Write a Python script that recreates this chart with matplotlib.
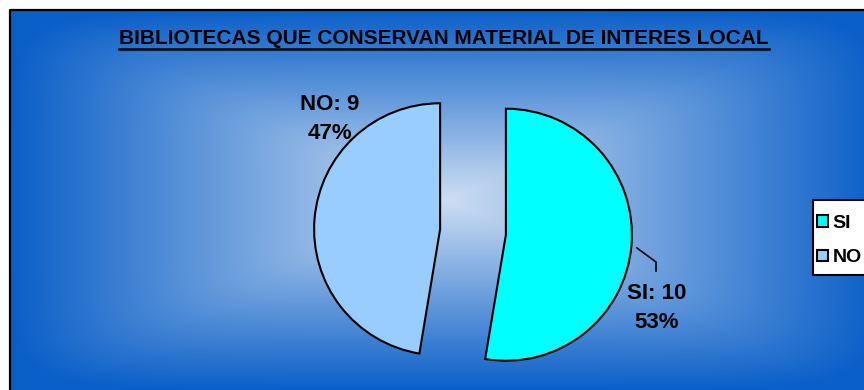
import matplotlib
matplotlib.use('Agg')
import matplotlib.pyplot as plt
import numpy as np
from matplotlib.patches import Rectangle

plt.rcParams['font.family'] = ['Liberation Sans', 'DejaVu Sans']

# datos
categorias = ['SI', 'NO']
valores = [10, 9]
porcentajes = ['53%', '47%']
colores = ['#00FFFF', '#99CCFF']
titulo = 'BIBLIOTECAS QUE CONSERVAN MATERIAL DE INTERES LOCAL'

W, H = 864, 390
fig = plt.figure(figsize=(W / 100, H / 100), dpi=100)
ax = fig.add_axes([0, 0, 1, 1])

# fondo degradado rectangular (desde el centro), esquinas algo suavizadas
yy, xx = np.mgrid[0:H, 0:W] + 0.5
cx, cy, hx, hy = 445, 200, 435, 190
p = 8
t = ((np.abs(xx - cx) / hx) ** p + (np.abs(yy - cy) / hy) ** p) ** (1 / p)
t = np.clip(t, 0, 1)[..., None]
c_in = np.array([205, 222, 242]) / 255
c_out = np.array([10, 95, 200]) / 255
img = c_in * (1 - t) + c_out * t
img[:10, :, :] = 1
img[:, :10, :] = 1
ax.imshow(img, extent=(0, W, 0, H), origin='upper', zorder=0, interpolation='nearest')
ax.plot([10, 10, W], [0, H - 10, H - 10], color='black', lw=1.6, zorder=1)

# pastel
centro = (473, H - 232)
wedges, _ = ax.pie(valores, colors=colores, startangle=90, counterclock=False,
                   radius=126, center=centro, explode=[33, 33],
                   wedgeprops=dict(edgecolor='black', linewidth=1.5))
for w in wedges:
    w.set_zorder(2)

ax.set_xlim(0, W)
ax.set_ylim(0, H)
ax.set_aspect('auto')
ax.axis('off')

# etiquetas
ax.text(657, H - 308, f'{categorias[0]}: {valores[0]}\n{porcentajes[0]}', ha='center', va='center',
        fontsize=16, fontweight='bold', linespacing=1.55, zorder=3)
ax.text(330, H - 119, f'{categorias[1]}: {valores[1]}\n{porcentajes[1]}', ha='center', va='center',
        fontsize=16, fontweight='bold', linespacing=1.45, zorder=3)
ax.plot([637, 656, 656], [H - 248, H - 262, H - 271], color='black', lw=1.2, zorder=3)

# titulo subrayado
tt = ax.text(444, H - 39, titulo, ha='center', va='center', fontsize=15, fontweight='bold', zorder=3)
fig.canvas.draw()
bb = tt.get_window_extent().transformed(ax.transData.inverted())
ax.plot([bb.x0, bb.x1], [H - 49, H - 49], color='black', lw=1.8, zorder=3)

# leyenda
ax.add_patch(Rectangle((813, H - 275), 80, 75, facecolor='white', edgecolor='black',
                       lw=1.5, zorder=4, clip_on=False))
leg = ax.legend(wedges, categorias, loc='upper left', bbox_to_anchor=(817 / W, 1 - 215 / H),
                bbox_transform=fig.transFigure, frameon=False,
                prop=dict(weight='bold', size=14), handlelength=0.55, handleheight=0.55,
                handletextpad=0.25, labelspacing=0.9, borderpad=0, borderaxespad=0)
leg.set_zorder(5)

fig.savefig('out.png', dpi=100)
